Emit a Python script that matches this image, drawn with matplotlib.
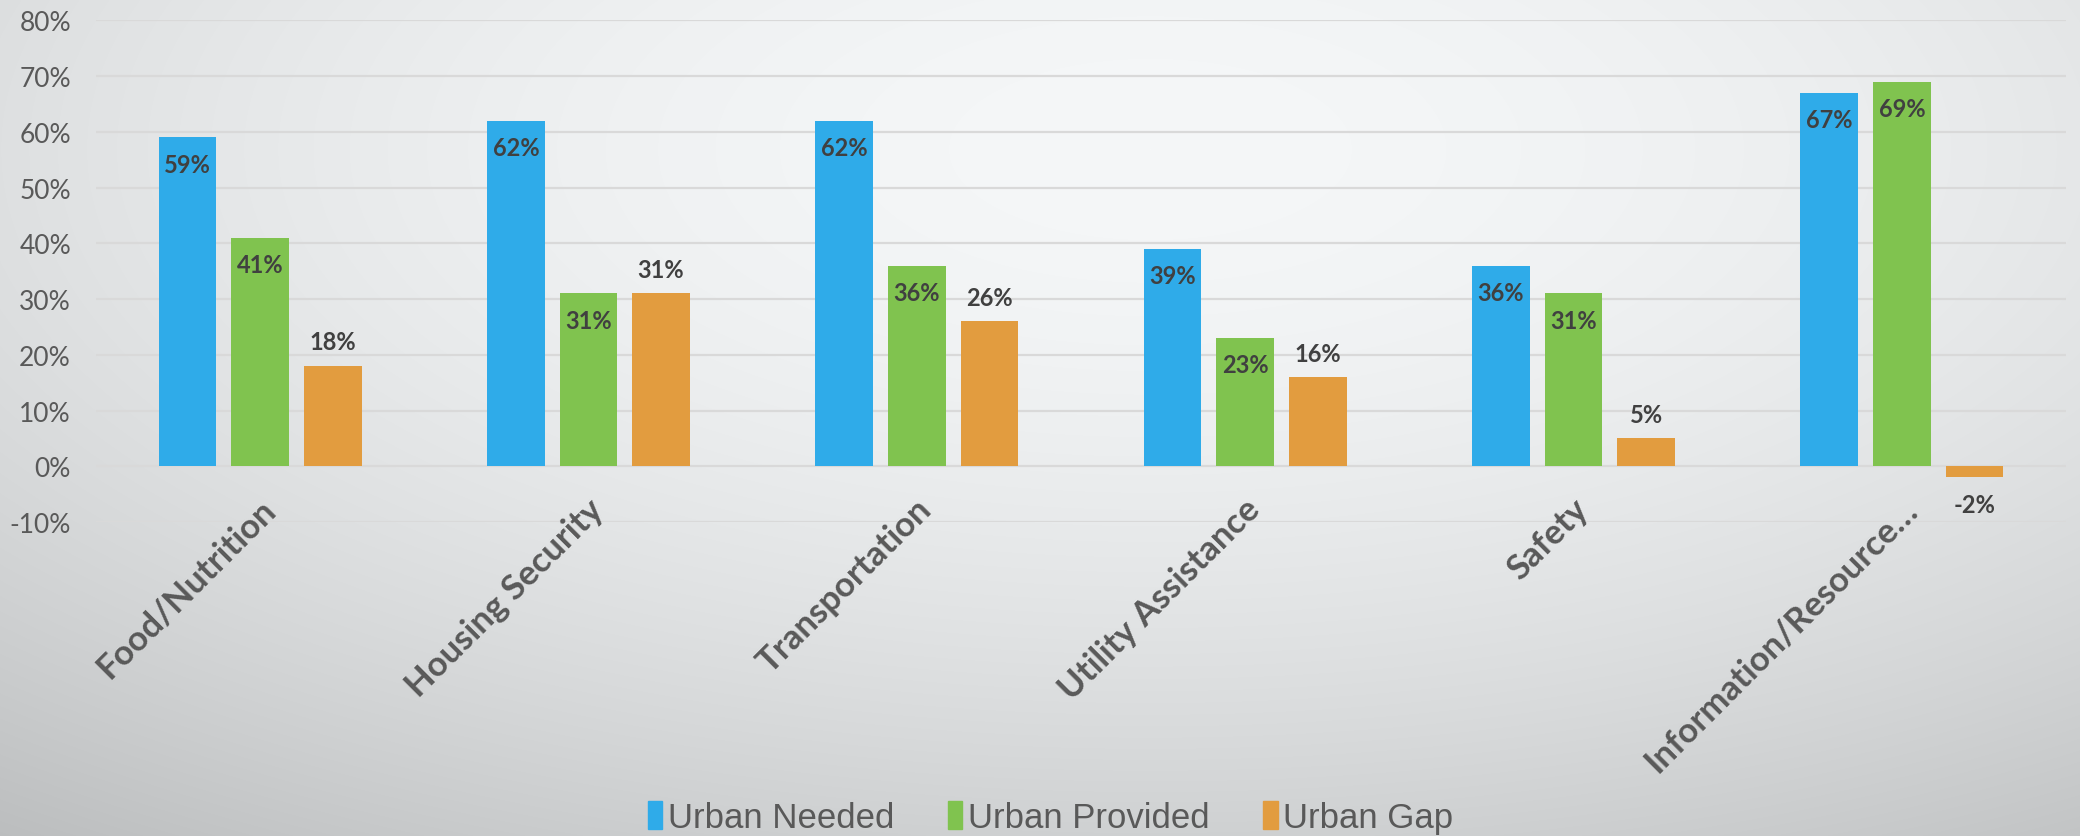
import matplotlib

matplotlib.use("Agg")
import matplotlib.pyplot as plt
import numpy as np
from matplotlib.patches import Patch

CATEGORIES = ["Food/Nutrition", "Housing Security", "Transportation",
              "Utility Assistance", "Safety", "Information/Resource\u2026"]
NEEDED = [59, 62, 62, 39, 36, 67]
PROVIDED = [41, 31, 36, 23, 31, 69]
GAP = [18, 31, 26, 16, 5, -2]
Y_TICKS = [-10, 0, 10, 20, 30, 40, 50, 60, 70, 80]

SERIES = [
    ("Urban Needed", NEEDED, "#2fabe9", "inside"),
    ("Urban Provided", PROVIDED, "#80c34f", "inside"),
    ("Urban Gap", GAP, "#e29c3f", "outside"),
]

W, H = 2080, 837
TEXT_FONT = ["Lato", "DejaVu Sans"]


def background(fig):
    # soft radial gradient like the slide background
    yy, xx = np.mgrid[0:H, 0:W]
    r = np.sqrt(((xx - 1150) * 0.45) ** 2 + (yy - 150) ** 2)
    v = 248 - 46 * (r / 760) ** 1.8
    v = np.clip(v, 180, 250)
    img = np.dstack([v - 3, v - 1, v]) / 255.0
    bg = fig.add_axes([0, 0, 1, 1], zorder=-10)
    bg.imshow(np.clip(img, 0, 1), aspect="auto", extent=(0, 1, 0, 1))
    bg.axis("off")


def build_plot():
    fig = plt.figure(figsize=(W / 100, H / 100), dpi=100)
    background(fig)

    ax = fig.add_axes([96 / W, 1 - 523 / H, (2066 - 96) / W, (523 - 21.4) / H])
    ax.set_facecolor("none")

    x = np.arange(len(CATEGORIES))
    width = 0.176
    step = 0.221
    for k, (name, vals, color, where) in enumerate(SERIES):
        pos = x + (k - 1) * step
        ax.bar(pos, vals, width, color=color, zorder=3, label=name)
        for px, v in zip(pos, vals):
            if where == "inside":
                off, va = -11, "top"
            elif v >= 0:
                off, va = 9, "bottom"
            else:
                off, va = -11, "top"
            ax.annotate(f"{v}%", (px, v), xytext=(0, off), textcoords="offset points",
                        ha="center", va=va, fontsize=17, fontweight="bold",
                        color="#404040", family=TEXT_FONT, zorder=5)

    ax.set_xlim(-0.5, len(CATEGORIES) - 0.5)
    ax.set_ylim(-10, 80)
    ax.set_yticks(Y_TICKS)
    ax.set_yticklabels([f"{t}%" for t in Y_TICKS], fontsize=19, color="#595959",
                       family=TEXT_FONT)
    ax.tick_params(axis="y", length=0, pad=18)
    ax.set_xticks([])
    ax.grid(axis="y", color="#d9d9d9", linewidth=1.6, zorder=0)
    ax.set_axisbelow(True)
    for s in ax.spines.values():
        s.set_visible(False)

    # category labels hang just under the zero line
    for i, cat in enumerate(CATEGORIES):
        ax.annotate(cat, (i, 0), xytext=(12, -32), textcoords="offset points",
                    rotation=45, rotation_mode="anchor", ha="right", va="baseline",
                    fontsize=25, fontweight="bold", color="#595959", family=TEXT_FONT)

    handles = [Patch(color=c, label=n) for n, _, c, _ in SERIES]
    fig.legend(handles=handles, loc="lower center", bbox_to_anchor=(0.505, -0.035),
               ncol=3, frameon=False, handlelength=0.42, handleheight=0.85,
               handletextpad=0.15, columnspacing=1.55, labelcolor="#595959",
               prop={"family": ["Liberation Sans", "DejaVu Sans"], "size": 25})

    fig.savefig("out.png", dpi=100)
    plt.close(fig)


if __name__ == "__main__":
    build_plot()
